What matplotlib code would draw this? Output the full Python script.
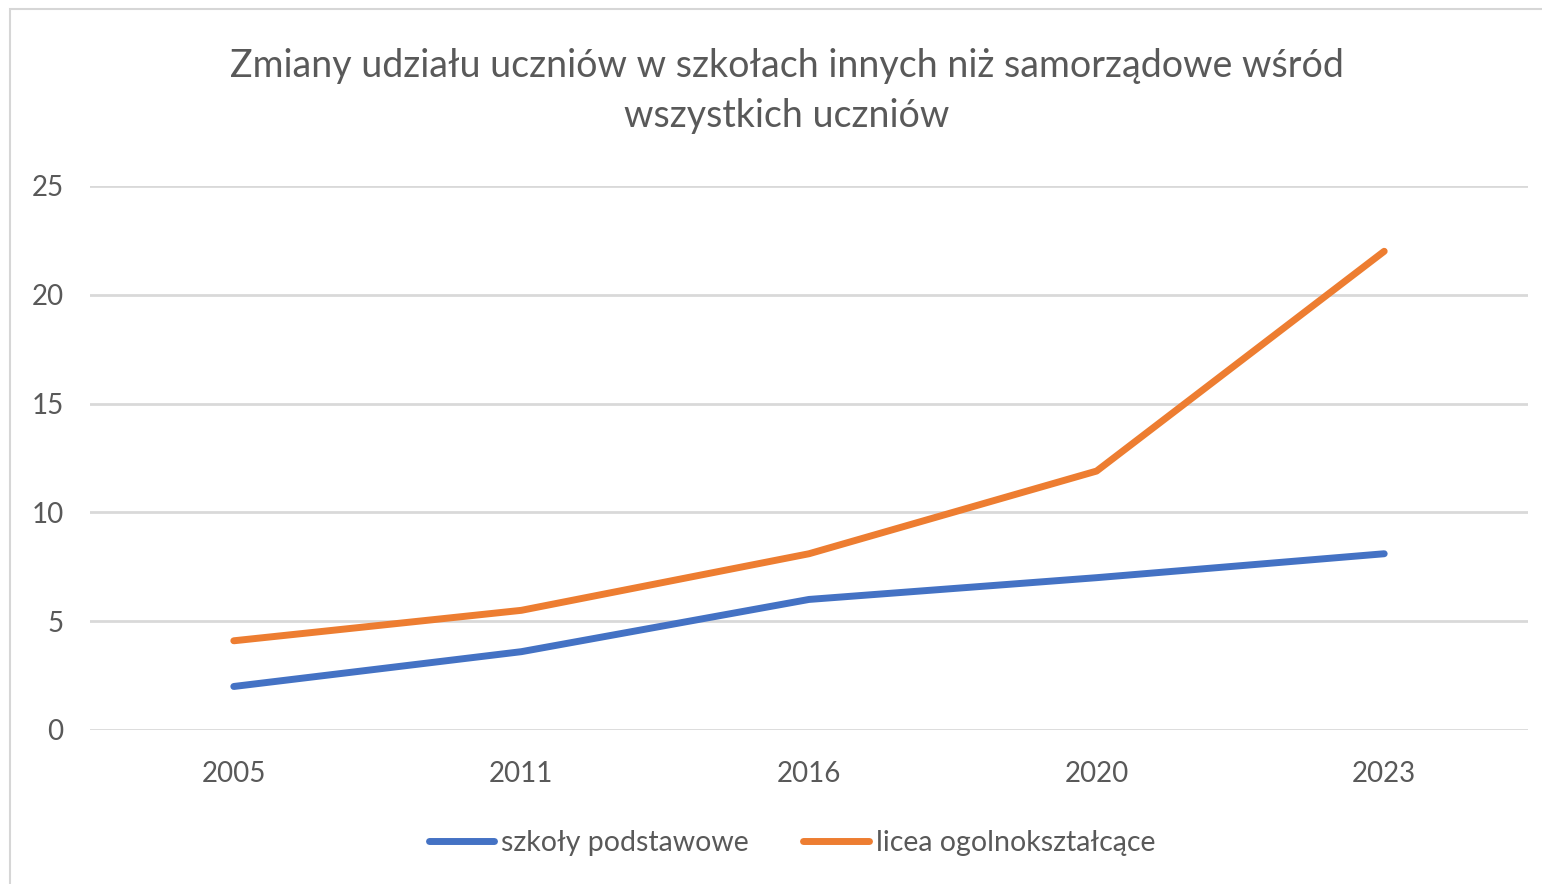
import matplotlib.pyplot as plt
from matplotlib.patches import Rectangle

years = ["2005", "2011", "2016", "2020", "2023"]
szkoly_podstawowe = [2.0, 3.6, 6.0, 7.0, 8.1]
licea = [4.1, 5.5, 8.1, 11.9, 22.0]
labels = ["szkoły podstawowe", "licea ogolnokształcące"]
title = "Zmiany udziału uczniów w szkołach innych niż samorządowe wśród\nwszystkich uczniów"

plt.rcParams["font.family"] = ["Lato", "DejaVu Sans"]

fig = plt.figure(figsize=(15.42, 8.84), dpi=100)
fig.patches.append(Rectangle((10 / 1542, -0.1), 1.2, 1 - 9 / 884 + 0.1,
                             transform=fig.transFigure, fill=False,
                             edgecolor="#d6d6d6", linewidth=1.5))
ax = fig.add_axes([90 / 1542, 1 - 730 / 884, 1438 / 1542, 544 / 884])

x = range(len(years))
ax.plot(x, szkoly_podstawowe, color="#4472C4", lw=5, solid_capstyle="round", label=labels[0])
ax.plot(x, licea, color="#ED7D31", lw=5, solid_capstyle="round", label=labels[1])

ax.set_xlim(-0.5, len(years) - 0.5)
ax.set_ylim(0, 25)
ax.set_yticks(range(0, 26, 5))
ax.set_xticks(list(x))
ax.set_xticklabels(years)
ax.yaxis.grid(True, color="#d9d9d9", lw=2)
ax.set_axisbelow(True)
for s in ax.spines.values():
    s.set_visible(False)
ax.tick_params(length=0, labelsize=20, colors="#595959")
ax.tick_params(axis="y", pad=19)
ax.tick_params(axis="x", pad=22)

fig.text(787 / 1542, 1 - 91 / 884, title, ha="center", va="center",
         fontsize=27, color="#595959", linespacing=1.5)

ax.legend(loc="center", bbox_to_anchor=(792 / 1542, 1 - 843 / 884),
          bbox_transform=fig.transFigure, ncol=2, frameon=False,
          fontsize=20.5, labelcolor="#595959", handlelength=2.3,
          handletextpad=0.25, columnspacing=1.9)

fig.savefig("out.png", dpi=100, facecolor="white")
